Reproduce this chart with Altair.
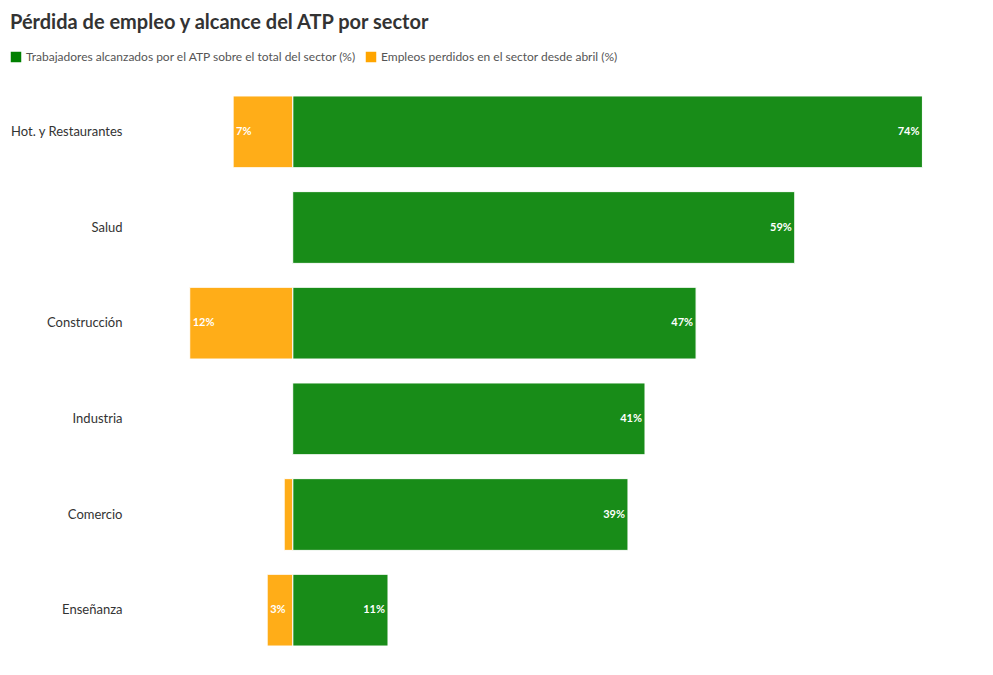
import altair as alt
import pandas as pd

# Sectores (de arriba hacia abajo)
sectores = ["Hot. y Restaurantes", "Salud", "Construcción", "Industria", "Comercio", "Enseñanza"]

# Trabajadores alcanzados por el ATP sobre el total del sector (%)
atp = [74.0, 59.0, 47.4, 41.4, 39.4, 11.2]

# Empleos perdidos en el sector desde abril (%)
perdidos = [7.0, 0.0, 12.1, 0.0, 1.0, 3.0]

serie_atp = "Trabajadores alcanzados por el ATP sobre el total del sector (%)"
serie_perd = "Empleos perdidos en el sector desde abril (%)"

VERDE = "#008000"
NARANJA = "#ffa500"
FUENTE = "Lato"

rows = []
for s, a, p in zip(sectores, atp, perdidos):
    rows.append({"sector": s, "serie": serie_atp, "valor": a,
                 "etiqueta": f"{round(a)}%", "show": a >= 2})
    if p > 0:
        rows.append({"sector": s, "serie": serie_perd, "valor": -p,
                     "etiqueta": f"{round(p)}%", "show": p >= 2})
df = pd.DataFrame(rows)

y_enc = alt.Y(
    "sector:N", sort=sectores, title=None,
    scale=alt.Scale(paddingInner=0.25, paddingOuter=0.125),
    axis=alt.Axis(domain=False, ticks=False, labelPadding=9, labelFontSize=13,
                  labelColor="#333333", labelFont=FUENTE),
)
x_scale = alt.Scale(domain=[-19, 81], nice=False, zero=False)

base = alt.Chart(df)

barras = base.mark_bar(opacity=0.9, stroke="white", strokeWidth=1).encode(
    x=alt.X("valor:Q", scale=x_scale, axis=None),
    y=y_enc,
    color=alt.Color(
        "serie:N",
        scale=alt.Scale(domain=[serie_atp, serie_perd], range=[VERDE, NARANJA]),
        legend=alt.Legend(
            title=None, orient="none", direction="horizontal",
            legendX=-121, legendY=-33, symbolType="square", symbolSize=110,
            symbolOpacity=1, symbolStrokeWidth=0, labelFontSize=12,
            labelColor="#555555", labelFont=FUENTE, columnPadding=8,
            labelOffset=4, labelLimit=0,
        ),
    ),
)

etiquetas_verde = base.transform_filter(
    (alt.datum.serie == serie_atp) & alt.datum.show
).mark_text(align="right", dx=-3, color="white", fontWeight="bold",
            fontSize=11, font=FUENTE).encode(
    x=alt.X("valor:Q", scale=x_scale, axis=None),
    y=alt.Y("sector:N", sort=sectores),
    text="etiqueta:N",
)

etiquetas_naranja = base.transform_filter(
    (alt.datum.serie == serie_perd) & alt.datum.show
).mark_text(align="left", dx=3, color="white", fontWeight="bold",
            fontSize=11, font=FUENTE).encode(
    x=alt.X("valor:Q", scale=x_scale, axis=None),
    y=alt.Y("sector:N", sort=sectores),
    text="etiqueta:N",
)

chart = alt.layer(barras, etiquetas_verde, etiquetas_naranja).properties(
    width=851,
    height=574,
    autosize=alt.AutoSizeParams(type="none"),
    padding={"left": 123, "top": 76, "right": 0, "bottom": 10},
    title=alt.TitleParams(
        "Pérdida de empleo y alcance del ATP por sector",
        anchor="start", frame="bounds", fontSize=20, font=FUENTE,
        fontWeight="bold", color="#333333", offset=18,
    ),
).configure_view(stroke=None)

chart.save("out.html", embed_options={"renderer": "svg", "actions": False})
